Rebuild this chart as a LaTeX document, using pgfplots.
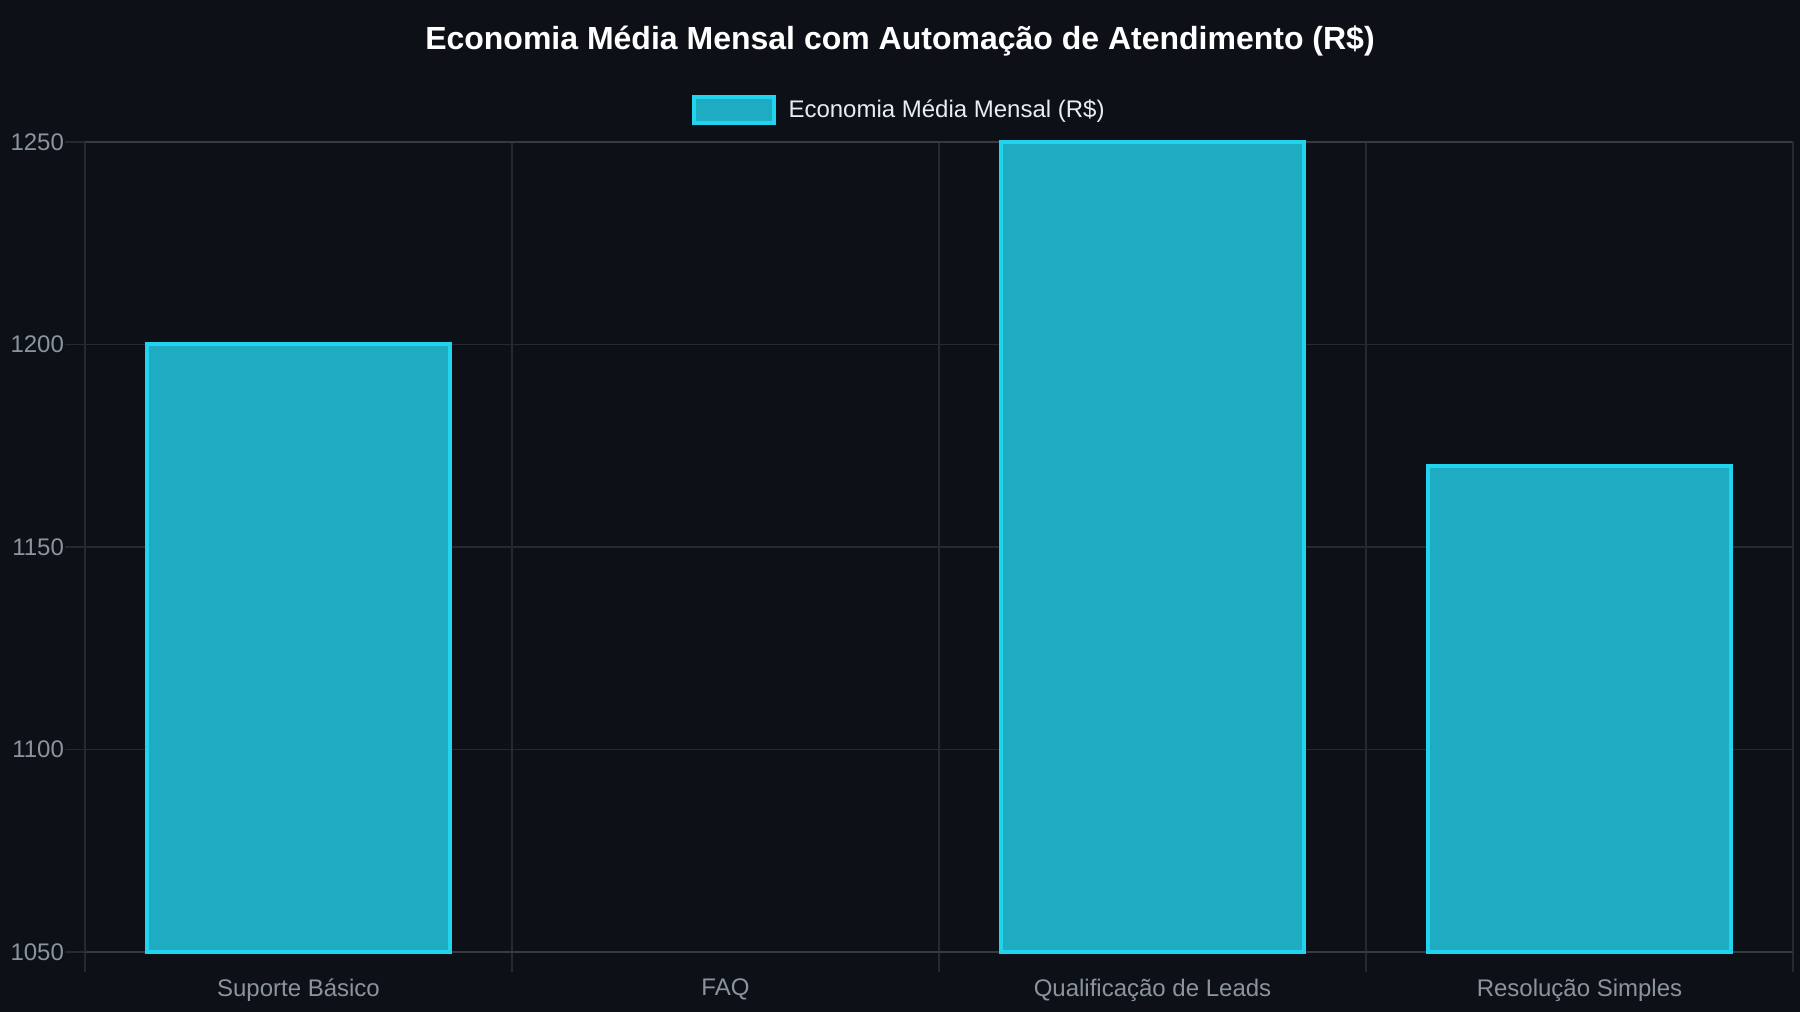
\documentclass[border=0pt]{standalone}
\usepackage{pgfplots}
\pgfplotsset{compat=1.18}
\usepackage{fontspec}
\setmainfont{Liberation Sans}
\definecolor{bg}{HTML}{0D1117}
\definecolor{gridc}{HTML}{262A30}
\definecolor{borderc}{HTML}{363B42}
\definecolor{tickc}{HTML}{8B949E}
\definecolor{legc}{HTML}{E6EDF3}
\definecolor{barfill}{RGB}{30,172,195}
\definecolor{barline}{HTML}{22D3EE}
\begin{document}
\begin{tikzpicture}
\path[use as bounding box, fill=bg] (-42.5pt,-30pt) rectangle (857.5pt,476pt);
\node[font=\fontsize{16}{19}\selectfont\bfseries, text=white, anchor=center] at (407.5pt,455.5pt) {Economia Média Mensal com Automação de Atendimento (R\$)};
\begin{axis}[
  scale only axis,
  width=854pt, height=405pt,
  xmin=-0.5, xmax=3.5,
  ymin=1050, ymax=1250,
  ytick={1050,1100,1150,1200,1250},
  xtick={0,1,2,3},
  xticklabels={Suporte Básico, FAQ, Qualificação de Leads, Resolução Simples},
  minor xtick={-0.5,0.5,1.5,2.5,3.5},
  xtick pos=bottom, ytick pos=left,
  xminorgrids=true, ymajorgrids=true, xmajorgrids=false,
  tick align=outside,
  major tick length=10pt, minor tick length=10pt,
  x tick style={draw=none},
  minor x tick style={draw=gridc, line width=0.6pt},
  y tick style={draw=gridc, line width=0.6pt},
  grid style={draw=gridc, line width=0.6pt},
  minor grid style={draw=gridc, line width=0.6pt},
  axis line style={draw=gridc, line width=0.6pt},
  separate axis lines,
  every outer x axis line/.append style={draw=borderc, line width=0.8pt},
  tick label style={text=tickc},
  xticklabel style={font=\fontsize{12}{14}\selectfont, yshift=0pt},
  yticklabel style={font=\fontsize{12}{14}\selectfont, xshift=3pt},
  /pgf/number format/assume math mode=true,
  /pgf/number format/1000 sep={},
  clip=false,
  restrict y to domain=1050:1250,
  ybar,
  bar width=0.7096,
  legend style={at={(0.4772,1.0395)}, anchor=center, draw=none, fill=none,
    text=legc, font=\fontsize{12}{14}\selectfont, inner sep=0pt,
    legend cell align=left},
  legend image code/.code={\draw[#1] (0pt,-6.3pt) rectangle (40pt,6.3pt); \path (44.5pt,0pt);},
  legend style={/tikz/every even column/.append style={column sep=0pt}},
]
\addplot[fill=barfill, draw=barline, line width=2pt] coordinates {
  (0,1200) (1,950) (2,1250) (3,1170)
};
\addlegendentry{Economia Média Mensal (R\$)}
\end{axis}
\end{tikzpicture}
\end{document}
